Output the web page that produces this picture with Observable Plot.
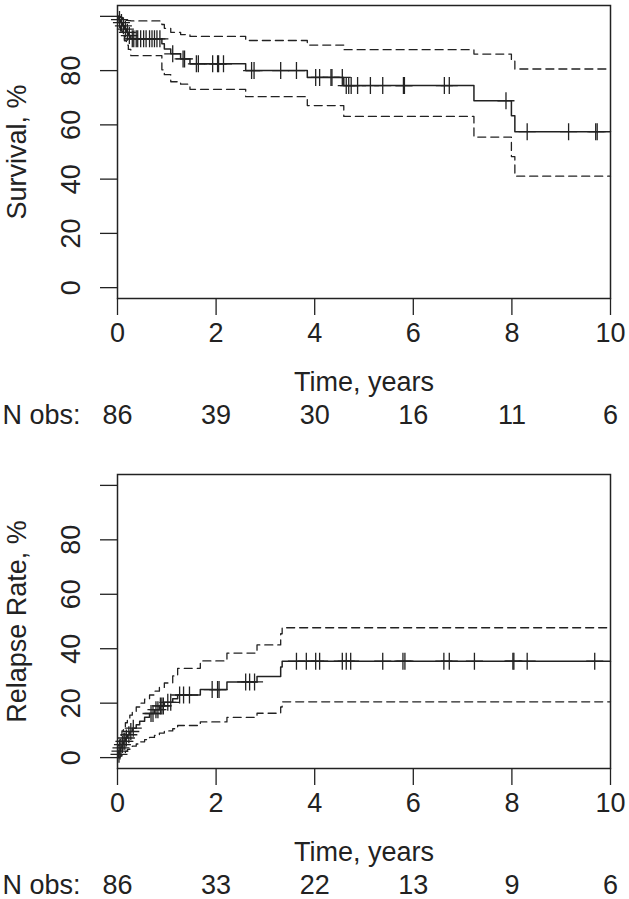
<!DOCTYPE html>
<html><head><meta charset="utf-8">
<script src="https://cdn.jsdelivr.net/npm/d3@7"></script>
<script src="https://cdn.jsdelivr.net/npm/@observablehq/plot@0.6"></script>
<style>
body{margin:0;background:#fff;}
#chart svg{display:block;}
</style></head><body><div id="chart"></div>
<script>
// ---- data ----
const xDomain = [0, 10];
const xTicks = [0, 2, 4, 6, 8, 10];
const yTicks = [0, 20, 40, 60, 80, 100];
const yTickLabels = [0, 20, 40, 60, 80];

// Survival (Kaplan-Meier)
const survTime  = [0, 0.03, 0.06, 0.10, 0.14, 0.18, 0.22, 0.27, 0.90, 0.95, 1.08, 1.28, 1.47, 2.60, 3.85, 4.59, 7.23, 7.99, 8.06];
const survValue = [100, 98.8, 97.7, 96.5, 95.3, 94.1, 92.9, 91.7, 89.9, 88.0, 86.2, 84.3, 82.5, 80.0, 77.5, 74.5, 68.9, 63.4, 57.5];
const survUpper = [100, 100, 99.6, 99.1, 98.7, 98.5, 98.4, 98.3, 97.0, 95.6, 94.1, 93.3, 92.6, 91.1, 89.4, 87.7, 86.1, 83.5, 80.6];
const survLower = [100, 96.4, 94.6, 92.8, 91.0, 89.4, 87.8, 85.5, 80.3, 78.5, 75.9, 75.0, 73.1, 70.4, 67.1, 63.1, 55.5, 48.3, 41.1];
const survCensor = [0.04, 0.08, 0.12, 0.16, 0.20, 0.24, 0.30, 0.33, 0.38, 0.41, 0.47, 0.53, 0.58, 0.65, 0.70, 0.75, 0.80, 0.86,
  1.12, 1.33, 1.36, 1.60, 1.64, 1.93, 2.03, 2.05, 2.15, 2.72, 2.77, 3.31, 3.63, 4.02, 4.10, 4.33, 4.35, 4.56,
  4.64, 4.69, 4.74, 4.87, 5.13, 5.38, 5.80, 5.82, 6.63, 6.73, 7.88, 8.31, 9.15, 9.70, 9.73];
const survNobs = [86, 39, 30, 16, 11, 6];

// Relapse rate (1 - KM)
const relTime  = [0, 0.02, 0.04, 0.06, 0.09, 0.12, 0.16, 0.20, 0.25, 0.30, 0.38, 0.45, 0.55, 0.65, 0.75, 0.85, 0.95, 1.12, 1.22, 1.68, 2.22, 2.83, 3.31, 3.34];
const relValue = [0, 1.2, 2.4, 3.6, 4.8, 6.0, 7.2, 8.4, 9.6, 10.8, 12.1, 13.4, 14.8, 16.2, 17.6, 19.0, 20.3, 21.6, 23.0, 25.0, 27.8, 29.8, 33.3, 35.4];
const relUpper = [0, 4.5, 6.5, 8.2, 9.8, 11.3, 12.8, 14.2, 15.6, 17.0, 18.6, 20.0, 21.5, 23.0, 24.4, 25.8, 27.4, 30.0, 32.8, 35.5, 38.4, 41.4, 45.5, 47.7];
const relLower = [0, 0, 0.2, 0.6, 1.1, 1.7, 2.3, 3.0, 3.6, 4.2, 5.0, 5.8, 6.6, 7.4, 8.2, 9.0, 9.8, 10.6, 11.8, 13.1, 14.8, 16.3, 18.6, 20.5];
const relCensor = [0.03, 0.05, 0.07, 0.10, 0.13, 0.15, 0.18, 0.23, 0.27, 0.32, 0.68, 0.72, 0.78, 0.82, 0.87, 0.90, 0.93,
  1.02, 1.08, 1.26, 1.34, 1.46, 1.92, 2.03, 2.06, 2.60, 2.68, 2.78, 3.63, 3.83, 4.02, 4.10, 4.56, 4.64, 4.73,
  5.38, 5.79, 5.83, 6.62, 6.73, 7.24, 8.02, 8.04, 8.31, 9.68];
const relNobs = [86, 33, 22, 13, 9, 6];

// ---- drawing ----
const INK = "#222";
const FONT = "'Liberation Sans', Arimo, Helvetica, Arial, sans-serif";
const FS = 27;

const plusSymbol = {
  draw(context, size) {
    const r = Math.sqrt(size / Math.PI);
    context.moveTo(-r, 0); context.lineTo(r, 0);
    context.moveTo(0, -r); context.lineTo(0, r);
  }
};

function series(times, vals) {
  const rows = times.map((t, i) => ({t, v: vals[i]}));
  rows.push({t: xDomain[1], v: vals[vals.length - 1]});
  return rows;
}
function stepAt(times, vals, t) {
  let k = 0;
  for (let i = 0; i < times.length; i++) if (times[i] <= t) k = i;
  return vals[k];
}

function panel({times, vals, upper, lower, censor, nobs, ylabel, height, marginTop, marginBottom}) {
  const cens = censor.map(t => ({t, v: stepAt(times, vals, t)}));
  const txt = {fontSize: FS, fill: INK, lineAnchor: "middle"};
  return Plot.plot({
    width: 629,
    height,
    marginLeft: 117,
    marginRight: 19,
    marginTop,
    marginBottom,
    style: {fontFamily: FONT, fontSize: FS + "px", background: "#fff", overflow: "visible"},
    x: {domain: xDomain, label: null},
    y: {domain: [-4, 104], label: null},
    marks: [
      Plot.line(series(times, upper), {x: "t", y: "v", curve: "step-after", stroke: INK, strokeWidth: 1.3, strokeDasharray: "8,5"}),
      Plot.line(series(times, lower), {x: "t", y: "v", curve: "step-after", stroke: INK, strokeWidth: 1.3, strokeDasharray: "8,5"}),
      Plot.line(series(times, vals), {x: "t", y: "v", curve: "step-after", stroke: INK, strokeWidth: 1.5}),
      Plot.dot(cens, {x: "t", y: "v", symbol: plusSymbol, r: 8.5, fill: "none", stroke: INK, strokeWidth: 1.3}),
      Plot.frame({stroke: INK, strokeWidth: 1.5}),
      Plot.axisX({ticks: xTicks, tickSize: 17, tickFormat: () => "", label: null, stroke: INK, strokeWidth: 1.3}),
      Plot.axisY({ticks: yTicks, tickSize: 17, tickFormat: () => "", label: null, stroke: INK, strokeWidth: 1.3}),
      Plot.text(xTicks, {...txt, x: d => d, text: d => String(d), frameAnchor: "bottom", dy: 35, textAnchor: "middle"}),
      Plot.text(yTickLabels, {...txt, y: d => d, text: d => String(d), frameAnchor: "left", dx: -46, rotate: -90, textAnchor: "middle"}),
      Plot.text([ylabel], {...txt, text: d => d, frameAnchor: "left", dx: -100, rotate: -90, textAnchor: "middle"}),
      Plot.text(["Time, years"], {...txt, text: d => d, frameAnchor: "bottom", dy: 84, textAnchor: "middle"}),
      Plot.text(xTicks, {...txt, x: d => d, text: (d, i) => String(nobs[i]), frameAnchor: "bottom", dy: 117, textAnchor: "middle"}),
      Plot.text(["N obs:"], {...txt, text: d => d, frameAnchor: "bottom-left", dx: -115, dy: 117, textAnchor: "start"})
    ]
  });
}

const root = document.getElementById("chart");
root.appendChild(panel({
  times: survTime, vals: survValue, upper: survUpper, lower: survLower, censor: survCensor, nobs: survNobs,
  ylabel: "Survival, %", height: 449, marginTop: 5, marginBottom: 151
}));
root.appendChild(panel({
  times: relTime, vals: relValue, upper: relUpper, lower: relLower, censor: relCensor, nobs: relNobs,
  ylabel: "Relapse Rate, %", height: 450, marginTop: 25, marginBottom: 131
}));
</script></body></html>
